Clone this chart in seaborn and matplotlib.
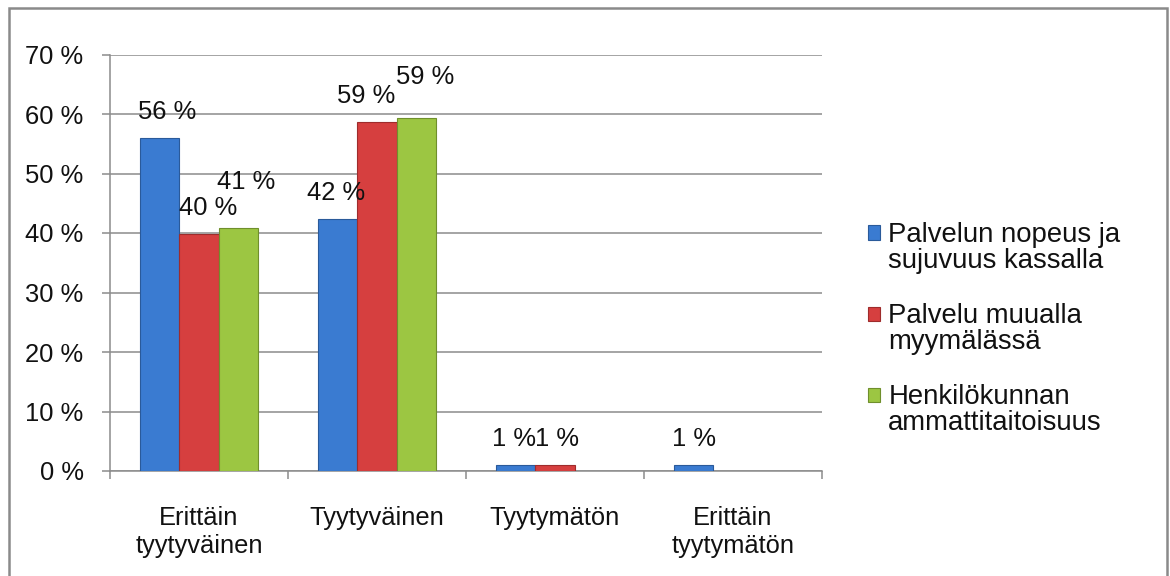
import numpy as np
import pandas as pd
import matplotlib
matplotlib.use("Agg")
import matplotlib.pyplot as plt
from matplotlib.patches import Rectangle
from matplotlib.legend_handler import HandlerPatch
import seaborn as sns

# Survey results: satisfaction with service, share of respondents (%)
categories = ["Erittäin\ntyytyväinen", "Tyytyväinen", "Tyytymätön", "Erittäin\ntyytymätön"]
series = ["Palvelun nopeus ja\nsujuvuus kassalla",
          "Palvelu muualla\nmyymälässä",
          "Henkilökunnan\nammattitaitoisuus"]
nopeus = [56.0, 42.4, 1.0, 1.0]
muualla = [39.8, 58.7, 1.0, np.nan]
ammattitaito = [40.8, 59.4, np.nan, np.nan]
yticks = [0, 10, 20, 30, 40, 50, 60, 70]

colors = ["#3A7BD1", "#D63F3F", "#9CC642"]
edge_colors = ["#2A5A9A", "#9E2C2C", "#6F8F2C"]

values = [nopeus, muualla, ammattitaito]
df = pd.DataFrame({
    "Kategoria": categories * len(series),
    "Sarja": [s for s in series for _ in categories],
    "Osuus": [v for vals in values for v in vals],
})

sns.set_theme(style="white")
plt.rcParams["font.family"] = ["Liberation Sans", "DejaVu Sans"]

fig = plt.figure(figsize=(11.7, 5.76), dpi=100)
ax = fig.add_axes([110 / 1170, 105 / 576, 712 / 1170, 416.5 / 576])

sns.barplot(data=df, x="Kategoria", y="Osuus", hue="Sarja", order=categories,
            hue_order=series, palette=colors, saturation=1, width=0.663,
            ax=ax, legend=False, zorder=3)

for cont, ec in zip(ax.containers, edge_colors):
    for bar in cont:
        bar.set_edgecolor(ec)
        bar.set_linewidth(0.8)

ax.set_ylim(0, 70)
ax.set_xlim(-0.5, len(categories) - 0.5)
ax.set_yticks(yticks)
ax.set_yticklabels([f"{t} %" for t in yticks])
ax.set_xlabel("")
ax.set_ylabel("")

grid_col = "#8C8C8C"
ax.yaxis.grid(True, color=grid_col, linewidth=1.1, zorder=0)
ax.set_axisbelow(True)
for side in ["top", "right"]:
    ax.spines[side].set_visible(False)
for side in ["left", "bottom"]:
    ax.spines[side].set_color(grid_col)
    ax.spines[side].set_linewidth(1.1)

ax.tick_params(axis="y", which="major", length=6, width=1.1, color=grid_col,
               direction="out", pad=13, labelsize=18.4, labelcolor="#111111", left=True)
ax.tick_params(axis="x", which="major", length=0, pad=25.5, labelsize=18.4,
               labelcolor="#111111")
ax.set_xticks(np.arange(-0.5, len(categories)), minor=True)
ax.tick_params(axis="x", which="minor", length=6, width=1.1, color=grid_col,
               direction="out", bottom=True)
for lbl in ax.get_xticklabels():
    lbl.set_linespacing(1.2)

# value labels above the bars; a few are nudged (in pixels) to keep them apart
nudges = {(0, 0): (7, 0), (1, 0): (9, 0), (2, 0): (8, 20),
          (0, 1): (-2, 0), (1, 1): (-11, 0), (2, 1): (9, 15),
          (0, 2): (-2, 0), (1, 2): (2, 0)}
px = 72 / fig.dpi
for si, (cont, vals) in enumerate(zip(ax.containers, values)):
    for ci, (bar, v) in enumerate(zip(cont, vals)):
        if np.isnan(v):
            continue
        dx, dy = nudges.get((si, ci), (0, 0))
        ax.annotate(f"{round(v):.0f} %",
                    xy=(bar.get_x() + bar.get_width() / 2, bar.get_height()),
                    xytext=(dx * px, (26 + dy) * px), textcoords="offset points",
                    ha="center", va="center", fontsize=18.4, color="#111111",
                    zorder=5)


class SquareHandler(HandlerPatch):
    """Legend key drawn as a small square aligned with the first text line."""
    def __init__(self, shift, **kw):
        super().__init__(**kw)
        self.shift = shift

    def create_artists(self, legend, orig_handle, xdescent, ydescent,
                       width, height, fontsize, trans):
        p = Rectangle((-xdescent, -ydescent + self.shift), width, height,
                      facecolor=orig_handle.get_facecolor(),
                      edgecolor=orig_handle.get_edgecolor(), linewidth=0.8,
                      transform=trans)
        return [p]


handles = [Rectangle((0, 0), 1, 1, facecolor=c, edgecolor=e)
           for c, e in zip(colors, edge_colors)]
leg = fig.legend(handles, series, loc="center left",
                 bbox_to_anchor=(868 / 1170, (576 - 329) / 576),
                 frameon=False, fontsize=19.8, handlelength=0.44,
                 handleheight=0.44, handletextpad=0.3, labelspacing=1.05,
                 borderpad=0, borderaxespad=0,
                 handler_map={Rectangle: SquareHandler(shift=11)})
for t in leg.get_texts():
    t.set_linespacing(1.02)
    t.set_color("#111111")

# outer frame of the chart area (bottom edge runs off the canvas)
fig.patches.append(Rectangle((9 / 1170, -0.01), (1167 - 9) / 1170, 568 / 576 + 0.01,
                             transform=fig.transFigure, fill=False,
                             edgecolor="#8A8A8A", linewidth=1.8))

fig.savefig("out.png", dpi=100)
